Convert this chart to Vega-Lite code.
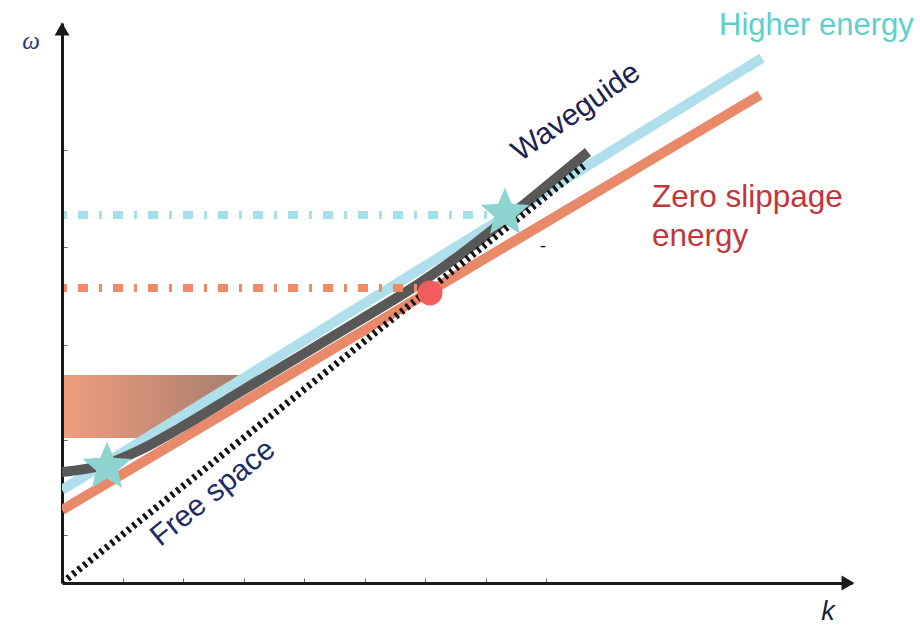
{
  "$schema": "https://vega.github.io/schema/vega-lite/v6.json",
  "autosize": "none",
  "width": 790,
  "height": 560,
  "padding": {"left": 62, "top": 23, "right": 68, "bottom": 42},
  "background": "white",
  "config": {"view": {"stroke": null}, "font": "Liberation Sans"},
  "datasets": {
    "box": [
      {"w": 145, "kl": 2, "kr": 108},
      {"w": 155, "kl": 2, "kr": 126},
      {"w": 191, "kl": 2, "kr": 186},
      {"w": 208, "kl": 2, "kr": 213}
    ],
    "free": [{"k": 0, "w": 0}, {"k": 523, "w": 418}],
    "higher": [{"k": 0, "w": 93}, {"k": 700, "w": 525}],
    "zero": [{"k": 0, "w": 73}, {"k": 698, "w": 488}],
    "guide": [
      {"k": 0, "w": 111}, {"k": 38, "w": 117}, {"k": 78, "w": 133}, {"k": 118, "w": 155},
      {"k": 178, "w": 191}, {"k": 238, "w": 227}, {"k": 298, "w": 263}, {"k": 358, "w": 300},
      {"k": 398, "w": 328}, {"k": 443, "w": 363}, {"k": 488, "w": 400}, {"k": 526, "w": 431}
    ],
    "hdash": [{"k": 2, "w": 368}, {"k": 440, "w": 368}],
    "zdash": [{"k": 2, "w": 295}, {"k": 358, "w": 295}],
    "stars": [{"k": 45, "w": 116}, {"k": 443, "w": 370}],
    "dot": [{"k": 368, "w": 290}],
    "arrowx": [{"k": 786, "w": 0}],
    "arrowy": [{"k": 0, "w": 554}],
    "ticks": [{"k": 0, "w": 0}]
  },
  "layer": [
    {
      "data": {"name": "ticks"},
      "mark": {"type": "point", "opacity": 0},
      "encoding": {
        "x": {"field": "k", "type": "quantitative", "scale": {"domain": [0, 790], "nice": false, "zero": false},
              "axis": {"title": null, "labels": false, "grid": false, "values": [60.5, 121, 181.5, 242, 302.5, 363, 423.5, 484],
                       "tickSize": -5, "tickColor": "#666", "tickWidth": 1, "domainWidth": 3, "domainColor": "#1a1a1a"}},
        "y": {"field": "w", "type": "quantitative", "scale": {"domain": [0, 560], "nice": false, "zero": false},
              "axis": {"title": null, "labels": false, "grid": false, "values": [48, 143, 238, 336, 433],
                       "tickSize": -5, "tickColor": "#666", "tickWidth": 1, "domainWidth": 3, "domainColor": "#1a1a1a"}}
      }
    },
    {
      "data": {"name": "box"},
      "mark": {"type": "area", "orient": "horizontal", "color": {"gradient": "linear", "x1": 0, "y1": 0, "x2": 1, "y2": 0,
               "stops": [{"offset": 0, "color": "#EE9C7E"}, {"offset": 1, "color": "#9A786E"}]}},
      "encoding": {
        "y": {"field": "w", "type": "quantitative"},
        "x": {"field": "kr", "type": "quantitative"}, "x2": {"field": "kl"}
      }
    },
    {
      "data": {"name": "zero"},
      "mark": {"type": "line", "color": "#E8896A", "strokeWidth": 10, "clip": true},
      "encoding": {"x": {"field": "k", "type": "quantitative"}, "y": {"field": "w", "type": "quantitative"}}
    },
    {
      "data": {"name": "higher"},
      "mark": {"type": "line", "color": "#AEDFEA", "strokeWidth": 10, "clip": true},
      "encoding": {"x": {"field": "k", "type": "quantitative"}, "y": {"field": "w", "type": "quantitative"}}
    },
    {
      "data": {"name": "guide"},
      "mark": {"type": "line", "color": "#585858", "strokeWidth": 10, "interpolate": "monotone", "clip": true},
      "encoding": {"x": {"field": "k", "type": "quantitative"}, "y": {"field": "w", "type": "quantitative"}}
    },
    {
      "data": {"name": "free"},
      "mark": {"type": "line", "color": "#111111", "strokeWidth": 7, "strokeDash": [3, 4], "clip": true},
      "encoding": {"x": {"field": "k", "type": "quantitative"}, "y": {"field": "w", "type": "quantitative"}}
    },
    {
      "data": {"name": "hdash"},
      "mark": {"type": "line", "color": "#A6DFEC", "strokeWidth": 8, "strokeDash": [3, 11, 10, 11]},
      "encoding": {"x": {"field": "k", "type": "quantitative"}, "y": {"field": "w", "type": "quantitative"}}
    },
    {
      "data": {"name": "zdash"},
      "mark": {"type": "line", "color": "#F28A66", "strokeWidth": 8, "strokeDash": [3, 11, 10, 11]},
      "encoding": {"x": {"field": "k", "type": "quantitative"}, "y": {"field": "w", "type": "quantitative"}}
    },
    {
      "data": {"name": "stars"},
      "mark": {"type": "point", "filled": true, "color": "#8DD3CF", "opacity": 1, "size": 2600,
               "shape": "M0,-1L0.264,-0.364L0.951,-0.309L0.428,0.139L0.588,0.809L0,0.45L-0.588,0.809L-0.428,0.139L-0.951,-0.309L-0.264,-0.364Z"},
      "encoding": {"x": {"field": "k", "type": "quantitative"}, "y": {"field": "w", "type": "quantitative"}}
    },
    {
      "data": {"name": "dot"},
      "mark": {"type": "point", "filled": true, "shape": "circle", "color": "#F25C5C", "opacity": 1, "size": 620},
      "encoding": {"x": {"field": "k", "type": "quantitative"}, "y": {"field": "w", "type": "quantitative"}}
    },
    {
      "data": {"name": "arrowx"},
      "mark": {"type": "point", "filled": true, "shape": "triangle-right", "color": "#1a1a1a", "opacity": 1, "size": 220},
      "encoding": {"x": {"field": "k", "type": "quantitative"}, "y": {"field": "w", "type": "quantitative"}}
    },
    {
      "data": {"name": "arrowy"},
      "mark": {"type": "point", "filled": true, "shape": "triangle-up", "color": "#1a1a1a", "opacity": 1, "size": 220},
      "encoding": {"x": {"field": "k", "type": "quantitative"}, "y": {"field": "w", "type": "quantitative"}}
    },
    {
      "data": {"values": [{"k": 514, "w": 471, "label": "Waveguide"}]},
      "mark": {"type": "text", "fontSize": 30, "angle": -35, "align": "center", "baseline": "middle", "color": "#1c2250", "font": "Liberation Sans"},
      "encoding": {"x": {"field": "k", "type": "quantitative"}, "y": {"field": "w", "type": "quantitative"}, "text": {"field": "label"}}
    },
    {
      "data": {"values": [{"k": 151, "w": 90, "label": "Free space"}]},
      "mark": {"type": "text", "fontSize": 30, "angle": -39, "align": "center", "baseline": "middle", "color": "#1e2b66", "font": "Liberation Sans"},
      "encoding": {"x": {"field": "k", "type": "quantitative"}, "y": {"field": "w", "type": "quantitative"}, "text": {"field": "label"}}
    },
    {
      "data": {"values": [{"k": 657, "w": 548, "label": "Higher energy"}]},
      "mark": {"type": "text", "fontSize": 31, "align": "left", "baseline": "alphabetic", "color": "#5ED0CC", "font": "Liberation Sans"},
      "encoding": {"x": {"field": "k", "type": "quantitative"}, "y": {"field": "w", "type": "quantitative"}, "text": {"field": "label"}}
    },
    {
      "data": {"values": [{"k": 590, "w": 376, "label": "Zero slippage"}, {"k": 590, "w": 337, "label": "energy"}]},
      "mark": {"type": "text", "fontSize": 31.5, "align": "left", "baseline": "alphabetic", "color": "#C2363B", "font": "Liberation Sans"},
      "encoding": {"x": {"field": "k", "type": "quantitative"}, "y": {"field": "w", "type": "quantitative"}, "text": {"field": "label"}}
    },
    {
      "data": {"values": [{"k": -31, "w": 542, "label": "ω"}]},
      "mark": {"type": "text", "fontSize": 25, "fontStyle": "italic", "align": "center", "baseline": "middle", "color": "#2b3a80", "font": "Liberation Serif"},
      "encoding": {"x": {"field": "k", "type": "quantitative"}, "y": {"field": "w", "type": "quantitative"}, "text": {"field": "label"}}
    },
    {
      "data": {"values": [{"k": 766, "w": -29, "label": "k"}]},
      "mark": {"type": "text", "fontSize": 27, "fontStyle": "italic", "align": "center", "baseline": "middle", "color": "#1a1f40", "font": "Liberation Sans"},
      "encoding": {"x": {"field": "k", "type": "quantitative"}, "y": {"field": "w", "type": "quantitative"}, "text": {"field": "label"}}
    },
    {
      "data": {"values": [{"k": 481, "w": 336, "label": "-"}]},
      "mark": {"type": "text", "fontSize": 18, "align": "center", "baseline": "middle", "color": "#111111", "font": "Liberation Sans"},
      "encoding": {"x": {"field": "k", "type": "quantitative"}, "y": {"field": "w", "type": "quantitative"}, "text": {"field": "label"}}
    }
  ]
}
